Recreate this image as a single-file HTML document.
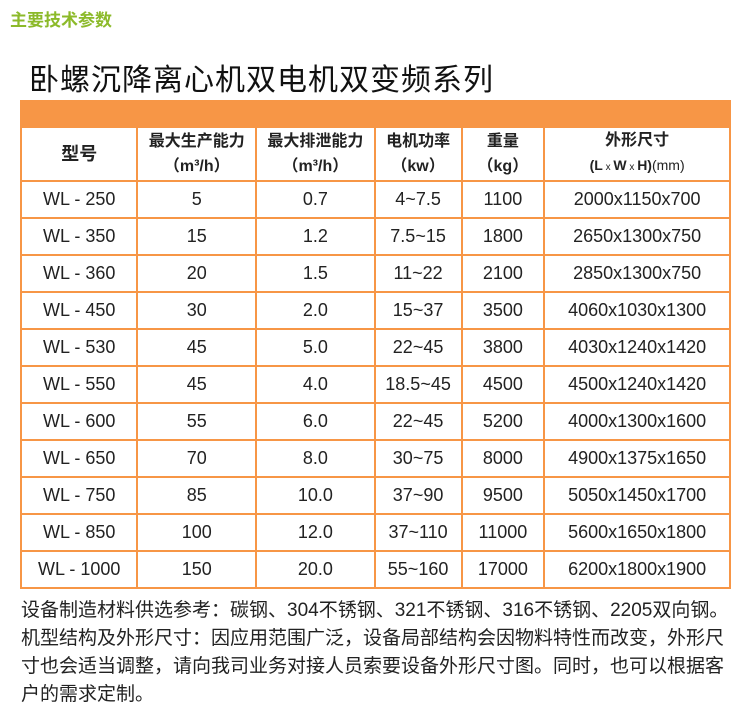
<!DOCTYPE html>
<html><head><meta charset="utf-8"><style>
body{margin:0;width:745px;height:707px;background:#fff;position:relative;overflow:hidden;font-family:"Liberation Sans","Noto Sans CJK SC",sans-serif;color:#222}
.sub{position:absolute;left:10px;top:6px;font-size:17px;font-weight:bold;color:#8cba2a}
.title{position:absolute;left:29px;top:55px;font-size:30px;color:#111;letter-spacing:1px}
.band{position:absolute;left:20px;top:100px;width:711px;height:27px;background:#f79646}
table{position:absolute;left:20px;top:126px;border-collapse:collapse;width:711px}
td{border:2px solid #f79646;text-align:center;font-size:18px;height:35px;padding:0;color:#222}
tr.h td{height:51px;font-weight:bold;font-size:16px;line-height:25px}
.foot{position:absolute;left:21px;top:597px;font-size:19px;line-height:28px;color:#222;width:720px;white-space:nowrap}
</style></head><body>
<div class="sub">主要技术参数</div>
<div class="title">卧螺沉降离心机双电机双变频系列</div>
<div class="band"></div>
<table>
<colgroup><col style="width:117px"><col style="width:119px"><col style="width:119px"><col style="width:87px"><col style="width:83px"><col style="width:186px"></colgroup>
<tr class="h"><td style="font-size:18px">型号</td><td>最大生产能力<br>（m³/h）</td><td>最大排泄能力<br>（m³/h）</td><td>电机功率<br>（kw）</td><td>重量<br>（kg）</td><td>外形尺寸<br><span style="font-size:14px">(L<span style="font-weight:normal;font-size:10px"> x </span>W<span style="font-weight:normal;font-size:10px"> x </span>H)<span style="font-weight:normal">(mm)</span></span></td></tr>
<tr><td>WL - 250</td><td>5</td><td>0.7</td><td>4~7.5</td><td>1100</td><td>2000x1150x700</td></tr>
<tr><td>WL - 350</td><td>15</td><td>1.2</td><td>7.5~15</td><td>1800</td><td>2650x1300x750</td></tr>
<tr><td>WL - 360</td><td>20</td><td>1.5</td><td>11~22</td><td>2100</td><td>2850x1300x750</td></tr>
<tr><td>WL - 450</td><td>30</td><td>2.0</td><td>15~37</td><td>3500</td><td>4060x1030x1300</td></tr>
<tr><td>WL - 530</td><td>45</td><td>5.0</td><td>22~45</td><td>3800</td><td>4030x1240x1420</td></tr>
<tr><td>WL - 550</td><td>45</td><td>4.0</td><td>18.5~45</td><td>4500</td><td>4500x1240x1420</td></tr>
<tr><td>WL - 600</td><td>55</td><td>6.0</td><td>22~45</td><td>5200</td><td>4000x1300x1600</td></tr>
<tr><td>WL - 650</td><td>70</td><td>8.0</td><td>30~75</td><td>8000</td><td>4900x1375x1650</td></tr>
<tr><td>WL - 750</td><td>85</td><td>10.0</td><td>37~90</td><td>9500</td><td>5050x1450x1700</td></tr>
<tr><td>WL - 850</td><td>100</td><td>12.0</td><td>37~110</td><td>11000</td><td>5600x1650x1800</td></tr>
<tr><td>WL - 1000</td><td>150</td><td>20.0</td><td>55~160</td><td>17000</td><td>6200x1800x1900</td></tr>
</table>
<div class="foot">设备制造材料供选参考：碳钢、304不锈钢、321不锈钢、316不锈钢、2205双向钢。<br>机型结构及外形尺寸：因应用范围广泛，设备局部结构会因物料特性而改变，外形尺<br>寸也会适当调整，请向我司业务对接人员索要设备外形尺寸图。同时，也可以根据客<br>户的需求定制。</div>
</body></html>
